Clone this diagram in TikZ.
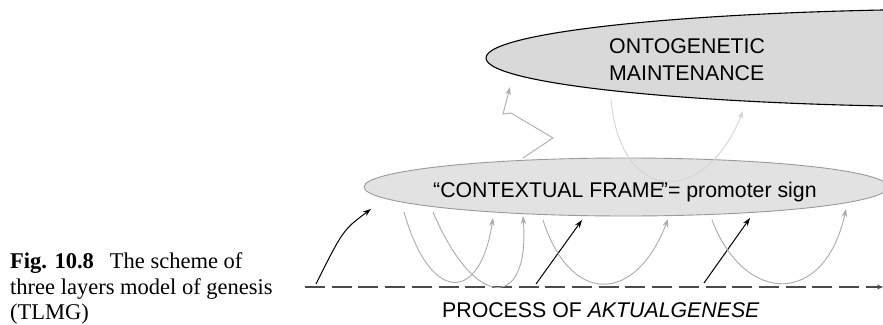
\documentclass[tikz,border=0pt]{standalone}
\usepackage{fontspec}
\setmainfont{Liberation Serif}
\setsansfont{Liberation Sans}
\usetikzlibrary{shapes.geometric,arrows.meta}

\definecolor{ontofill}{HTML}{D9D9D9}
\definecolor{ctxfill}{HTML}{E2E2E2}
\definecolor{ctxline}{HTML}{9A9A9A}
\definecolor{loopgray}{HTML}{ABABAB}
\definecolor{palegray}{HTML}{D4D4D4}
\definecolor{timeline}{HTML}{4A4A4A}

\tikzset{
  layer/.style={shape=ellipse, inner sep=0pt},
  lbl/.style={font=\sffamily\fontsize{21.3}{25}\selectfont, inner sep=0pt, anchor=base west},
  captext/.style={font=\rmfamily\fontsize{22.5}{25.5}\selectfont, inner sep=0pt, anchor=base west},
  arrtip/.style={-{Stealth[length=8pt,width=5.5pt]}},
  push/.style={arrtip, draw=black, line width=1pt},
  loop/.style={arrtip, draw=loopgray, line width=0.9pt},
  feed/.style={arrtip, draw=palegray, line width=0.9pt},
}

\begin{document}
\begin{tikzpicture}[x=1pt,y=-1pt]
\clip (0,0) rectangle (883,324);

% the two layers
\node[layer, fill=ontofill, draw=black, line width=1.1pt,
      minimum width=994pt, minimum height=98pt] (onto) at (983,58) {};
\node[layer, fill=ctxfill, draw=ctxline, line width=0.9pt,
      minimum width=524pt, minimum height=58pt] (ctx) at (626,187) {};

% layer labels
\node[lbl] (ontoA) at (609,53) {ONTOGENETIC};
\node[lbl] (ontoB) at (609,80) {MAINTENANCE};
\node[lbl] (ctxlbl) at (433,197) {\char"201C CONTEXTUAL FRAME\kern-3pt\char"201D= promoter sign};
\node[lbl] (proc) at (442,317) {PROCESS OF \textit{AKTUALGENESE}};

% caption
\node[captext] (capA) at (10,268) {\textbf{Fig. 10.8}\hspace{16pt}The scheme of};
\node[captext] (capB) at (10,294) {three layers model of genesis};
\node[captext] (capC) at (10,319) {(TLMG)};

% time line of the actual genesis
\coordinate (tl0) at (305,287);
\coordinate (tl1) at (883,287);
\draw[timeline, line width=1.2pt, dash pattern=on 20pt off 6.7pt,
      -{Stealth[length=6pt,width=5pt]}] (tl0) -- (tl1);

% black pushes from the time line to the frame
\coordinate (p1s) at (316,284);  \coordinate (p1e) at (371,209);
\coordinate (p2s) at (536,284);  \coordinate (p2e) at (582,220);
\coordinate (p3s) at (704,283);  \coordinate (p3e) at (750,218);
\draw[push] (p1s) .. controls (343,230) .. (p1e);
\draw[push] (p2s) -- (p2e);
\draw[push] (p3s) -- (p3e);

% gray loops from the frame down to the time line and back
\coordinate (l1s) at (404,212);  \coordinate (l1e) at (493,218);
\coordinate (l2s) at (433,212);  \coordinate (l2e) at (523,216);
\coordinate (l3s) at (543,220);  \coordinate (l3e) at (668,219);
\coordinate (l4s) at (712,220);  \coordinate (l4e) at (846,209);
\draw[loop] (l1s) .. controls (430,304) and (480,304) .. (l1e);
\draw[loop] (l2s) .. controls (475,311) and (530,311) .. (l2e);
\draw[loop] (l3s) .. controls (570,305) and (635,305) .. (l3e);
\draw[loop] (l4s) .. controls (745,306) and (825,306) .. (l4e);

% pale loop from the maintenance layer through the frame
\coordinate (f1s) at (611,100);  \coordinate (f1e) at (743,111);
\draw[feed] (f1s) .. controls (621,206) and (705,206) .. (f1e);

% zig-zag from the frame toward the maintenance layer
\coordinate (z0) at (523,158);
\coordinate (z1) at (553,138);
\coordinate (z2) at (511,113);
\coordinate (z3) at (503,114);
\coordinate (z4) at (510,87);
\draw[loop, line join=miter] (z0) -- (z1) -- (z2) -- (z3) -- (z4);
\end{tikzpicture}
\end{document}
